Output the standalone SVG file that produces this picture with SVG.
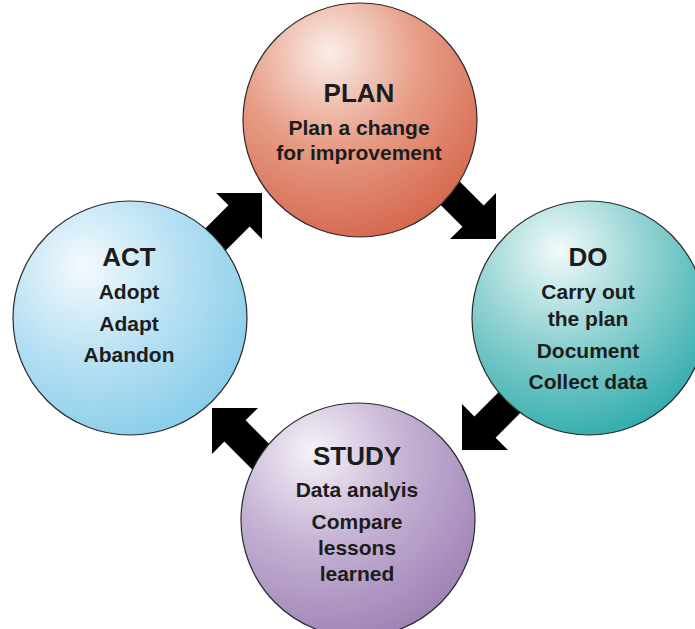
<svg xmlns="http://www.w3.org/2000/svg" width="695" height="629" viewBox="0 0 695 629">
<defs>
<style>
.ball{stroke:#2a2a2a;stroke-width:1.2}
.t{font-family:"Liberation Sans",Arial,sans-serif;font-weight:bold;fill:#1c1c1c;text-anchor:middle}
.h{font-size:26px}
.b{font-size:21px}
.arrow{fill:#000}
</style>
<radialGradient id="gPlan" cx="0.38" cy="0.25" r="0.85" fx="0.37" fy="0.21">
<stop offset="0" stop-color="#fbeee9"/>
<stop offset="0.45" stop-color="#e79d86"/>
<stop offset="1" stop-color="#d25f45"/>
</radialGradient>
<radialGradient id="gDo" cx="0.38" cy="0.25" r="0.85" fx="0.37" fy="0.21">
<stop offset="0" stop-color="#f2fafa"/>
<stop offset="0.45" stop-color="#8fd2d1"/>
<stop offset="1" stop-color="#23a6a6"/>
</radialGradient>
<radialGradient id="gAct" cx="0.35" cy="0.3" r="0.85" fx="0.3" fy="0.28">
<stop offset="0" stop-color="#f4fafd"/>
<stop offset="0.45" stop-color="#b9e1f3"/>
<stop offset="1" stop-color="#7cc8e8"/>
</radialGradient>
<radialGradient id="gStudy" cx="0.35" cy="0.25" r="0.85" fx="0.3" fy="0.2">
<stop offset="0" stop-color="#f6f2f8"/>
<stop offset="0.45" stop-color="#c5b2d4"/>
<stop offset="1" stop-color="#9a7cb1"/>
</radialGradient>
<polygon id="arr" points="0,0 -32.5,-32.5 -32.5,-15 -110,-15 -110,15 -32.5,15 -32.5,32.5"/>
</defs>
<rect width="695" height="629" fill="#fff"/>
<g id="connectors" class="arrow">
<use href="#arr" transform="translate(262,193) rotate(-45)"/>
<use href="#arr" transform="translate(496,239) rotate(45)"/>
<use href="#arr" transform="translate(462,450) rotate(135)"/>
<use href="#arr" transform="translate(212,408) rotate(-135)"/>
</g>
<g id="plan">
<circle class="ball" cx="360" cy="120" r="117" fill="url(#gPlan)"/>
<text class="t h" x="359" y="102">PLAN</text>
<text class="t b" x="359" y="134.5">Plan a change</text>
<text class="t b" x="359" y="159.5">for improvement</text>
</g>
<g id="do">
<circle class="ball" cx="589" cy="318" r="117" fill="url(#gDo)"/>
<text class="t h" x="588" y="266">DO</text>
<text class="t b" x="588" y="298.5">Carry out</text>
<text class="t b" x="588" y="325.5">the plan</text>
<text class="t b" x="588" y="357.5">Document</text>
<text class="t b" x="588" y="388.5">Collect data</text>
</g>
<g id="act">
<circle class="ball" cx="130" cy="318" r="117" fill="url(#gAct)"/>
<text class="t h" x="129" y="266">ACT</text>
<text class="t b" x="129" y="298.5">Adopt</text>
<text class="t b" x="129" y="330.5">Adapt</text>
<text class="t b" x="129" y="361.5">Abandon</text>
</g>
<g id="study">
<circle class="ball" cx="358" cy="520" r="117" fill="url(#gStudy)"/>
<text class="t h" x="357" y="465">STUDY</text>
<text class="t b" x="357" y="497">Data analyis</text>
<text class="t b" x="357" y="528.5">Compare</text>
<text class="t b" x="357" y="555">lessons</text>
<text class="t b" x="357" y="580.5">learned</text>
</g>
</svg>
